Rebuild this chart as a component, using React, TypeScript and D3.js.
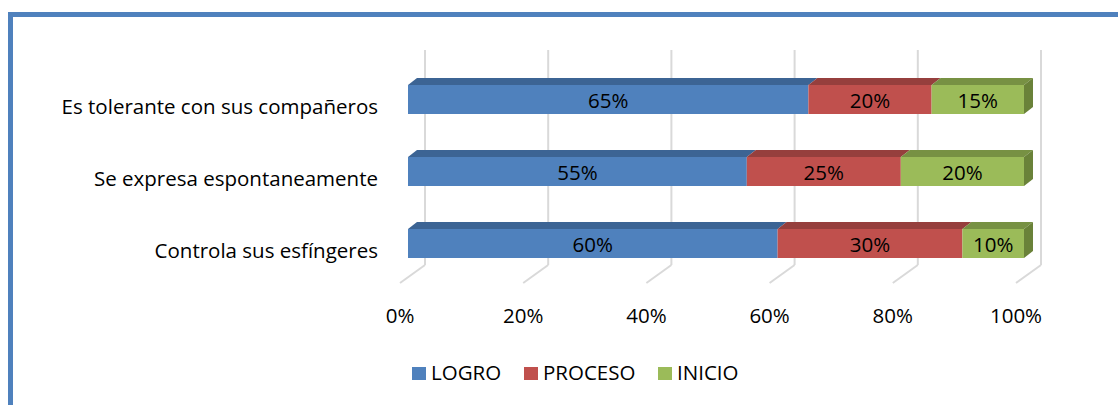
import React from "react";
import * as d3 from "d3";

const categories = ["Es tolerante con sus compañeros", "Se expresa espontaneamente", "Controla sus esfíngeres"];
const seriesNames = ["LOGRO", "PROCESO", "INICIO"];
const logro = [0.65, 0.55, 0.6];
const proceso = [0.2, 0.25, 0.3];
const inicio = [0.15, 0.2, 0.1];
const ticks = [0, 0.2, 0.4, 0.6, 0.8, 1.0];

const frontColors = ["#4F81BD", "#C0504D", "#9BBB59"];
const topColors = ["#3C6494", "#963F3D", "#779143"];
const sideColors = ["#3A5F8C", "#8E3B39", "#6A8239"];

const W = 1118, H = 405;
const FONT = "'Open Sans', sans-serif";
const FS = 20.5;

export default function App() {
  const series = [logro, proceso, inicio];
  const x = d3.scaleLinear().domain([0, 1]).range([400, 1016]);
  const y = d3.scalePoint<string>().domain(categories).range([99.5, 243.5]);
  const barH = 29;
  const barOff = 8; // bar front offset from front floor plane
  const bdx = 9, bdy = -7; // bar depth
  const fdx = 25, fdy = -18; // floor depth
  const gridTop = 50;
  const floorFrontY = 283;

  const stack = d3.stack<number>().keys([0, 1, 2]).value((i, k) => series[k as number][i]);
  const stacked = stack(d3.range(categories.length));
  const fmt = d3.format(".0%");

  return (
    <svg width={W} height={H} style={{ position: "absolute", left: 0, top: 0, background: "#fff" }}>
      <rect x={0} y={0} width={W} height={H} fill="#fff" />
      {/* border */}
      <path d={`M10.5,${H + 10} L10.5,14.5 L${W + 10},14.5`} fill="none" stroke="#4F81BD" strokeWidth={5} />
      {/* grid back wall */}
      {ticks.map((t) => (
        <g key={t}>
          <line x1={x(t) + fdx} x2={x(t) + fdx} y1={gridTop} y2={floorFrontY + fdy} stroke="#D9D9D9" strokeWidth={2} />
          <line x1={x(t) + fdx} x2={x(t)} y1={floorFrontY + fdy} y2={floorFrontY} stroke="#D9D9D9" strokeWidth={2} />
          <text x={x(t)} y={323} textAnchor="middle" fontFamily={FONT} fontSize={FS} fill="#000">{fmt(t)}</text>
        </g>
      ))}
      {/* bars */}
      {categories.map((c, ci) => {
        const cy = y(c)!;
        const top = cy - barH / 2;
        return (
          <g key={c}>
            {stacked.map((s, si) => {
              const x0 = x(s[ci][0]) + barOff;
              const x1 = x(s[ci][1]) + barOff;
              return (
                <g key={si}>
                  <path d={`M${x0},${top} L${x0 + bdx},${top + bdy} L${x1 + bdx},${top + bdy} L${x1},${top} Z`} fill={topColors[si]} />
                  <rect x={x0} y={top} width={x1 - x0} height={barH} fill={frontColors[si]} />
                  {si === 2 && (
                    <path d={`M${x1},${top} L${x1 + bdx},${top + bdy} L${x1 + bdx},${top + bdy + barH} L${x1},${top + barH} Z`} fill={sideColors[si]} />
                  )}
                  <text x={(x0 + x1) / 2} y={cy + 8} textAnchor="middle" fontFamily={FONT} fontSize={FS} fill="#000">{fmt(series[si][ci])}</text>
                </g>
              );
            })}
            <text x={378} y={cy + 14} textAnchor="end" fontFamily={FONT} fontSize={FS} fill="#000">{c}</text>
          </g>
        );
      })}
      {/* legend */}
      {seriesNames.map((n, i) => {
        const lx = [412, 524, 658][i];
        return (
          <g key={n}>
            <rect x={lx} y={367} width={14} height={13} fill={frontColors[i]} />
            <text x={lx + 19} y={380} fontFamily={FONT} fontSize={FS} fill="#000">{n}</text>
          </g>
        );
      })}
    </svg>
  );
}
